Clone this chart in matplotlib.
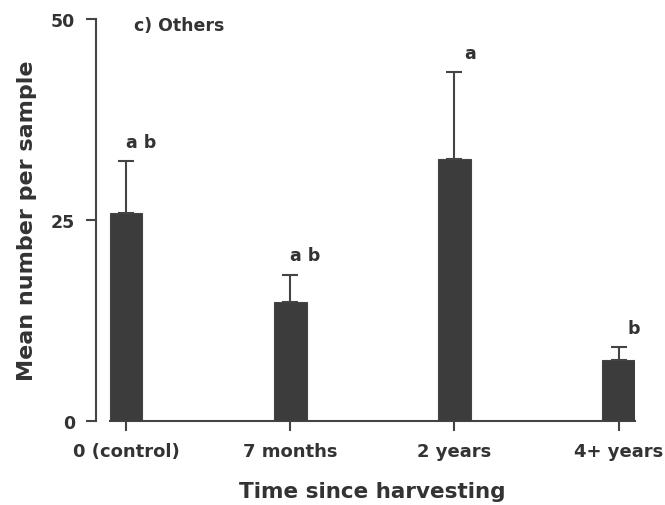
import matplotlib
matplotlib.use("Agg")
import matplotlib.pyplot as plt
import numpy as np

# datos
categories = ["0 (control)", "7 months", "2 years", "4+ years"]
means = [25.9, 14.8, 32.6, 7.6]
errors = [6.4, 3.4, 10.8, 1.6]
letters = ["a b", "a b", "a", "b"]
y_ticks = [0, 25, 50]

ink = "#333333"
bar_color = "#3c3c3c"

plt.rcParams["font.family"] = "DejaVu Sans"
plt.rcParams["font.weight"] = "bold"
plt.rcParams["axes.labelweight"] = "bold"
plt.rcParams["text.color"] = ink
plt.rcParams["axes.labelcolor"] = ink

fig = plt.figure(figsize=(6.65, 5.06), dpi=100)
ax = fig.add_axes([96 / 665, 84 / 506, (635 - 96) / 665, 402 / 506])

x = np.arange(len(categories))
ax.bar(x, means, width=0.2, color=bar_color, edgecolor="#444444", linewidth=0.8, zorder=3)
ax.errorbar(x, means, yerr=[np.zeros(len(errors)), errors], fmt="none",
            ecolor="#444444", elinewidth=1.5, capsize=5.5, capthick=1.5, zorder=2)

# letras de significancia sobre cada barra
for xi, m, e, lab in zip(x, means, errors, letters):
    ax.annotate(lab, (xi, m + e), xytext=(11, 14), textcoords="offset points",
                ha="center", va="center", fontsize=12.5)

ax.set_xlim(-0.183, 3.1)
ax.set_ylim(0, 50)
ax.set_xticks(x)
ax.set_xticklabels(categories, fontsize=13)
ax.set_yticks(y_ticks)
ax.set_yticklabels([str(t) for t in y_ticks], fontsize=12.5)

for s in ["top", "right"]:
    ax.spines[s].set_visible(False)
ax.spines["left"].set_color("#444444")
ax.spines["bottom"].set_color("#444444")
ax.spines["left"].set_linewidth(1.5)
ax.spines["bottom"].set_linewidth(1.5)
ax.spines["bottom"].set_bounds(-0.1, 3.1)
ax.tick_params(axis="both", direction="out", length=7, width=1.5, color="#444444", pad=8, labelcolor=ink)

ax.set_ylabel("Mean number per sample", fontsize=16)
ax.yaxis.set_label_coords(-0.11, 0.5)
ax.set_xlabel("Time since harvesting", fontsize=15.5)
ax.xaxis.set_label_coords(0.513, -0.15)
ax.text(0.07, 0.985, "c) Others", transform=ax.transAxes, fontsize=12.5, ha="left", va="center")

fig.savefig("out.png", dpi=100)
